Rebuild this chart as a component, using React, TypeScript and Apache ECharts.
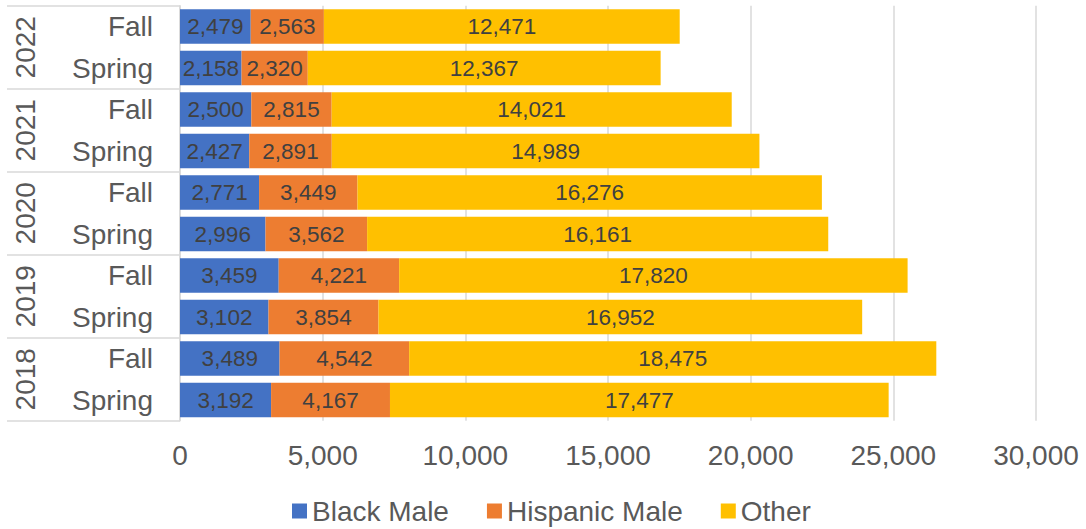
import React, { useEffect, useRef } from "react";
import * as echarts from "echarts";

const terms = ["Spring", "Fall", "Spring", "Fall", "Spring", "Fall", "Spring", "Fall", "Spring", "Fall"];
const years = ["2018", "2019", "2020", "2021", "2022"];
const blackMale = [3192, 3489, 3102, 3459, 2996, 2771, 2427, 2500, 2158, 2479];
const hispanicMale = [4167, 4542, 3854, 4221, 3562, 3449, 2891, 2815, 2320, 2563];
const other = [17477, 18475, 16952, 17820, 16161, 16276, 14989, 14021, 12367, 12471];

const FONT = "'Liberation Sans', Arial, sans-serif";

export default function App() {
  const ref = useRef<HTMLDivElement>(null);
  useEffect(() => {
    if (!ref.current) return;
    document.body.style.margin = "0";
    const chart = echarts.init(ref.current, undefined, { renderer: "svg" });
    const fmt = (v: number) => v.toLocaleString("en-US");
    const label = {
      show: true,
      position: "inside",
      color: "#404040",
      fontSize: 22.5,
      fontFamily: FONT,
      formatter: (p: any) => fmt(p.value),
    };
    const mk = (name: string, data: number[], color: string) => ({
      name,
      type: "bar",
      stack: "total",
      data,
      barCategoryGap: "17%",
      itemStyle: { color },
      label,
    });
    chart.setOption({
      animation: false,
      textStyle: { fontFamily: FONT },
      grid: { left: 180, right: 50, top: 5.75, bottom: 529 - 420.75 },
      legend: {
        left: 292,
        top: 497,
        padding: 0,
        itemWidth: 15,
        itemHeight: 15,
        itemGap: 38,
        icon: "rect",
        textStyle: { fontSize: 28, color: "#595959", fontFamily: FONT },
        data: ["Black Male", "Hispanic Male", "Other"],
      },
      xAxis: {
        type: "value",
        min: 0,
        max: 30000,
        interval: 5000,
        axisLine: { show: false },
        axisTick: { show: false },
        splitLine: { lineStyle: { color: "#d9d9d9", width: 1.5 } },
        axisLabel: {
          fontSize: 28,
          color: "#595959",
          margin: 21,
          fontFamily: FONT,
          formatter: (v: number) => fmt(v),
        },
      },
      yAxis: [
        {
          type: "category",
          data: terms,
          position: "left",
          axisLine: { show: true, lineStyle: { color: "#d9d9d9", width: 1.5 } },
          axisTick: { show: false },
          axisLabel: { fontSize: 28, color: "#595959", margin: 27, fontFamily: FONT },
        },
        {
          type: "category",
          data: years,
          position: "left",
          axisLine: { show: false },
          axisTick: { show: true, length: 173, interval: 0, lineStyle: { color: "#d9d9d9", width: 1.5 } },
          axisLabel: { fontSize: 28, color: "#595959", rotate: 90, margin: 141, fontFamily: FONT, interval: 0 },
        },
      ],
      series: [
        mk("Black Male", blackMale, "#4472C4"),
        mk("Hispanic Male", hispanicMale, "#ED7D31"),
        mk("Other", other, "#FFC000"),
      ],
    });
    return () => chart.dispose();
  }, []);
  return <div ref={ref} style={{ width: 1086, height: 529 }} />;
}
